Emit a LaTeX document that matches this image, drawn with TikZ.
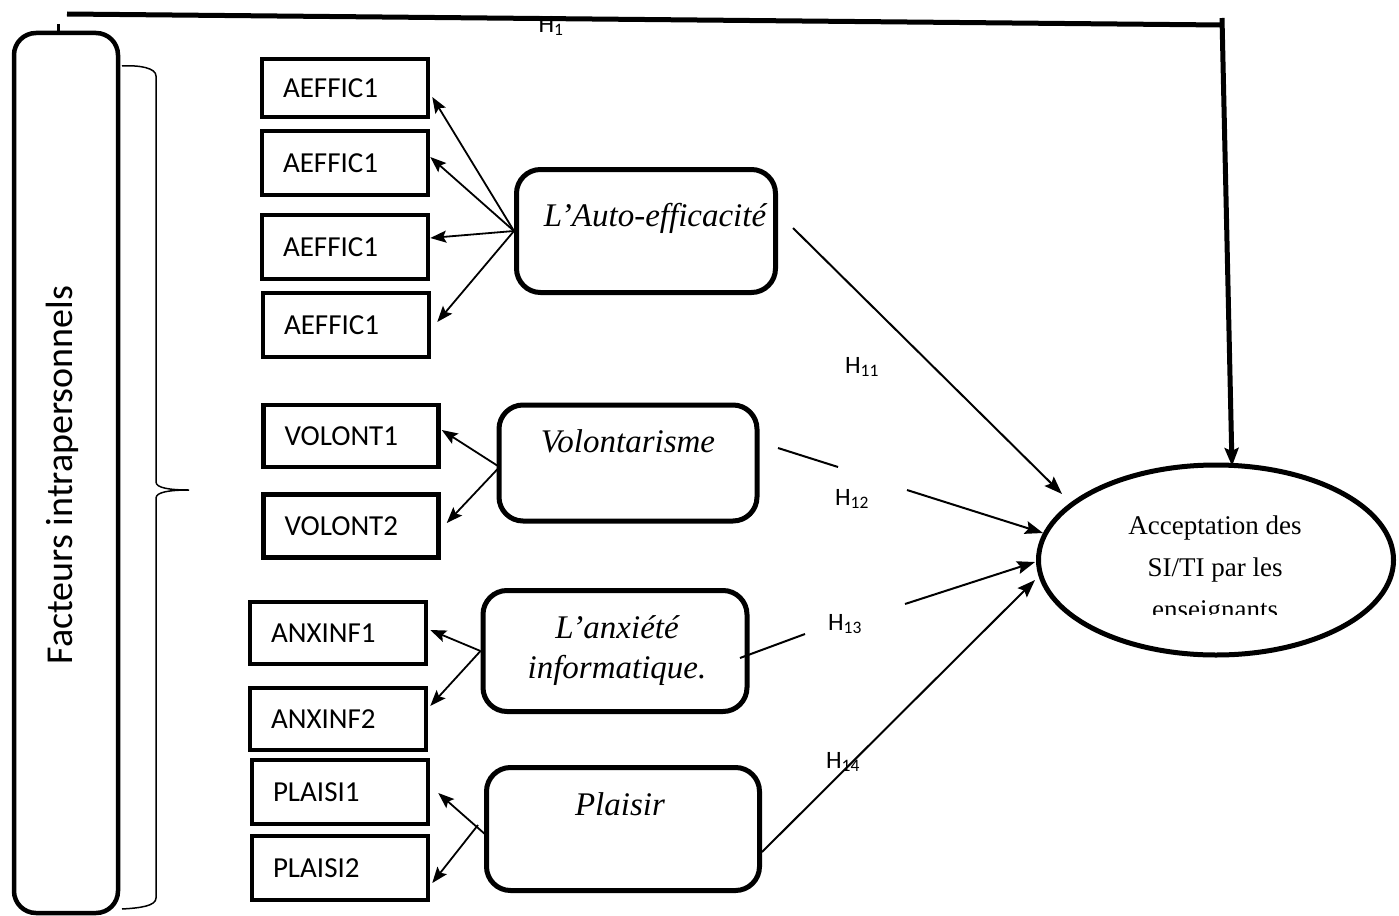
\documentclass[tikz,border=0pt]{standalone}
\usepackage{fontspec}
\setmainfont{Liberation Serif}
\newfontfamily\calib{Carlito}
\usetikzlibrary{arrows.meta,shapes.geometric,calc}
\tikzset{
  ind/.style={draw, line width=4.5pt, inner xsep=21pt, inner ysep=0pt, align=left,
              font=\calib\fontsize{29}{34}\selectfont},
  rbox/.style={draw, line width=5pt, rounded corners=24pt},
  ital/.style={font=\itshape\fontsize{33}{40}\selectfont, inner sep=0pt},
  hlab/.style={font=\calib\fontsize{25}{28}\selectfont, inner sep=0pt},
  arr/.style={line width=1.8pt, -{Stealth[length=16pt,width=12pt,inset=3pt]}},
  harr/.style={line width=2pt, -{Stealth[length=18pt,width=13pt,inset=3pt]}},
  hseg/.style={line width=2pt},
}
\begin{document}
\begin{tikzpicture}[x=1pt,y=-1pt]
\useasboundingbox (0,0) rectangle (1399,915);

% left big rounded box
\node[draw, line width=4.5pt, rounded corners=22pt, minimum width=104pt, minimum height=880pt, inner sep=0pt] (fac) at (66,473) {};
\node[rotate=90, font=\calib\fontsize{38}{44}\selectfont, inner sep=0pt] (fact) at (62,475) {Facteurs intrapersonnels};

% brace
\draw[line width=1.5pt] (122,66) .. controls (140,65) and (156,68) .. (156,76) -- (156,482)
  .. controls (156,488) and (170,490) .. (189,490)
  .. controls (170,490) and (156,492) .. (156,498) -- (156,898)
  .. controls (156,906) and (140,908) .. (122,909);

% indicator boxes
\node[ind, text width=124pt, minimum height=58pt] (a1) at (345,88) {AEFFIC1};
\node[ind, text width=124pt, minimum height=64pt] (a2) at (345,163) {AEFFIC1};
\node[ind, text width=124pt, minimum height=64pt] (a3) at (345,247) {AEFFIC1};
\node[ind, text width=124pt, minimum height=64pt] (a4) at (346,325) {AEFFIC1};
\node[ind, text width=133pt, minimum height=62pt] (v1) at (351,436) {VOLONT1};
\node[ind, text width=133pt, minimum height=63pt] (v2) at (351,526) {VOLONT2};
\node[ind, text width=134pt, minimum height=62pt] (n1) at (338,633) {ANXINF1};
\node[ind, text width=134pt, minimum height=62pt] (n2) at (338,719) {ANXINF2};
\node[ind, text width=134pt, minimum height=64pt] (p1) at (340,792) {PLAISI1};
\node[ind, text width=134pt, minimum height=64pt] (p2) at (340,868) {PLAISI2};

% construct boxes
\node[rbox, minimum width=259pt, minimum height=123pt] (ae) at (646,231) {};
\node[ital] (aet) at (655,218) {L’Auto-efficacité};
\node[rbox, minimum width=258pt, minimum height=116pt] (vo) at (628,463) {};
\node[ital] (vot) at (628,441) {Volontarisme};
\node[rbox, minimum width=264pt, minimum height=121pt] (an) at (615,651) {};
\node[ital, align=center] (ant) at (617,651) {L’anxiété\\ informatique.};
\node[rbox, minimum width=273pt, minimum height=123pt] (pl) at (623,829) {};
\node[ital] (plt) at (620,804) {Plaisir};

% ellipse
\node[draw, ellipse, line width=5pt, minimum width=355pt, minimum height=190pt, inner sep=0pt] (el) at (1216,560) {};
\begin{scope}
  \clip (1040,490) rectangle (1390,614);
  \node[align=center, font=\fontsize{27}{42}\selectfont, inner sep=0pt] (elt) at (1215,570) {Acceptation des\\SI/TI par les\\enseignants};
\end{scope}

% measurement arrows
\draw[arr] (ae.west) -- ([shift={(2,9)}]a1.east);
\draw[arr] (ae.west) -- ([shift={(0,-6)}]a2.east);
\draw[arr] (ae.west) -- ([shift={(0,-9)}]a3.east);
\draw[arr] (ae.west) -- ([shift={(6,-3)}]a4.east);
\draw[arr] ([shift={(3,4)}]vo.west) -- ([shift={(1,-6)}]v1.east);
\draw[arr] ([shift={(3,4)}]vo.west) -- ([shift={(6,-3)}]v2.east);
\draw[arr] (an.west) -- ([shift={(2,-3)}]n1.east);
\draw[arr] (an.west) -- ([shift={(2,-13)}]n2.east);
\draw[arr] ([shift={(2,6)}]pl.west) -- ([shift={(8,1)}]p1.east);
\draw[arr] ([shift={(-6,-4)}]pl.west) -- ([shift={(2,15)}]p2.east);

% hypotheses
\coordinate (h11s) at (793,228);
\coordinate (h11e) at (1062,494);
\draw[harr] (h11s) -- (h11e);
\coordinate (h12s) at (778,448);
\coordinate (h12m) at (838,467);
\coordinate (h12n) at (907,490);
\coordinate (h12e) at (1043,533);
\draw[hseg] (h12s) -- (h12m);
\draw[harr] (h12n) -- (h12e);
\coordinate (h13s) at (740,658);
\coordinate (h13m) at (805,634);
\coordinate (h13n) at (905,604);
\coordinate (h13e) at (1035,562);
\draw[hseg] (h13s) -- (h13m);
\draw[harr] (h13n) -- (h13e);
\coordinate (h14s) at (762,852);
\coordinate (h14e) at (1035,580);
\draw[harr] (h14s) -- (h14e);

% H1 line
\coordinate (tick) at (58,24);
\draw[line width=3pt] (tick) -- (fac.north -| tick);
\coordinate (h1s) at (67,14);
\coordinate (h1c) at (1222,25);
\coordinate (h1t) at (1222,18);
\coordinate (h1e) at (1232,466);
\draw[line width=5pt] (h1s) -- (h1c);
\draw[line width=5pt, -{Stealth[length=18pt,width=14pt,inset=3pt]}] (h1t) -- (h1e);

% labels
\node[hlab] (lh1) at (551,26) {H\textsubscript{1}};
\node[hlab] (lh11) at (862,367) {H\textsubscript{11}};
\node[hlab] (lh12) at (852,499) {H\textsubscript{12}};
\node[hlab] (lh13) at (845,624) {H\textsubscript{13}};
\node[hlab] (lh14) at (843,762) {H\textsubscript{14}};
\end{tikzpicture}
\end{document}
